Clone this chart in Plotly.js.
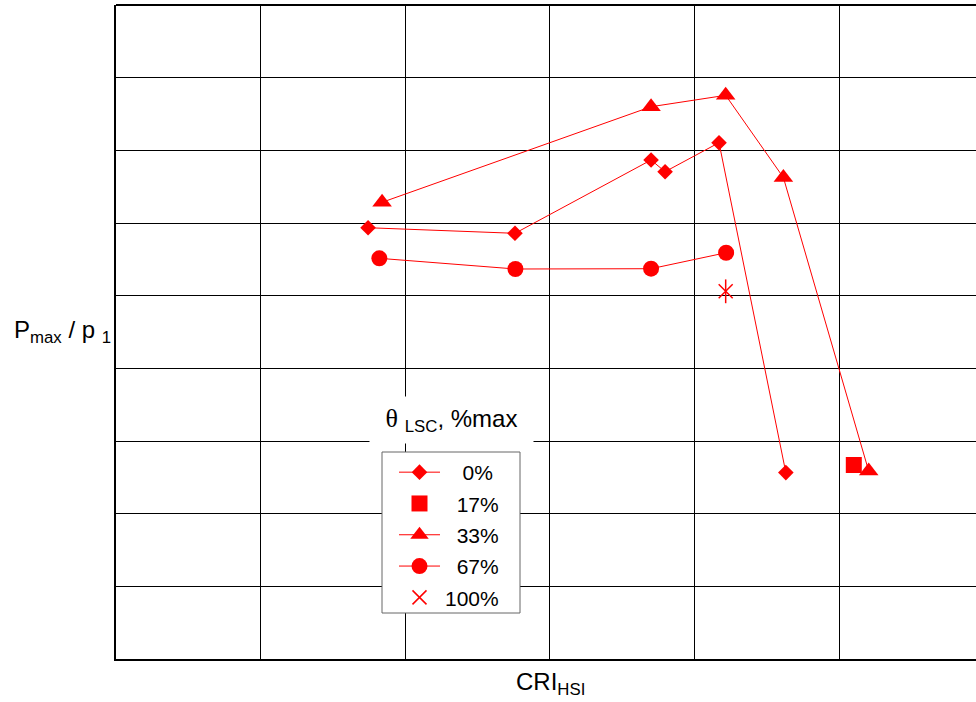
<!DOCTYPE html>
<html>
<head>
<meta charset="utf-8">
<script src="https://cdn.plot.ly/plotly-3.0.1.min.js"></script>
<style>html,body{margin:0;padding:0;overflow:hidden;background:#fff;}</style>
</head>
<body>
<div id="chart" style="width:976px;height:702px;"></div>
<script>
// Data (no tick labels in the original; unitless grid units)
const lscLevels = ["0%", "17%", "33%", "67%", "100%"];

const cri0 = [1.743, 2.759, 3.700, 3.797, 4.170, 4.632];
const p0   = [5.935, 5.858, 6.867, 6.706, 7.105, 2.565];

const cri17 = [5.102];
const p17   = [2.670];

const cri33 = [1.840, 3.700, 4.216, 4.615, 5.205];
const p33   = [6.285, 7.600, 7.757, 6.626, 2.587];

const cri67 = [1.821, 2.762, 3.700, 4.219];
const p67   = [5.514, 5.367, 5.371, 5.591];

const cri100 = [4.216];
const p100   = [5.060];

const red = "#ff0000";
const pad = (s, n) => "\u00a0".repeat(n) + s;

const traces = [
  {x: cri0, y: p0, name: pad(lscLevels[0], 3), mode: "lines+markers", legendgroup: "a",
   line: {color: red, width: 1}, marker: {symbol: "diamond", size: 12, color: red}},
  {x: cri17, y: p17, name: pad(lscLevels[1], 2), mode: "markers", legendgroup: "b",
   marker: {symbol: "square", size: 16, color: red}},
  {x: cri33, y: p33, name: pad(lscLevels[2], 2), mode: "lines+markers", legendgroup: "c",
   line: {color: red, width: 1}, marker: {symbol: "triangle-up", size: 17, color: red}},
  {x: cri67, y: p67, name: pad(lscLevels[3], 2), mode: "lines+markers", legendgroup: "d",
   line: {color: red, width: 1}, marker: {symbol: "circle", size: 16, color: red}},
  {x: cri100, y: p100, name: lscLevels[4], mode: "markers", legendgroup: "e",
   marker: {symbol: "x-thin-open", size: 14, color: red, line: {color: red, width: 1.5}}},
  {x: cri100, y: p100, name: lscLevels[4], mode: "markers", legendgroup: "e", showlegend: false,
   marker: {symbol: "line-ns-open", size: 17, color: red, line: {color: red, width: 1.5}}}
];

const gridColor = "#000000";
const layout = {
  width: 976, height: 702, autosize: false,
  margin: {l: 116, r: 0, t: 5, b: 43, pad: 0},
  paper_bgcolor: "#fff", plot_bgcolor: "#fff",
  font: {family: "Liberation Sans, Arial, sans-serif", color: "#000", size: 21},
  showlegend: true,
  xaxis: {range: [0, 5.947], dtick: 1, tick0: 0, showticklabels: false, ticks: "",
          showgrid: true, gridcolor: gridColor, gridwidth: 1, zeroline: false,
          showline: true, linecolor: "#000", linewidth: 2, fixedrange: true},
  yaxis: {range: [0, 9], dtick: 1, tick0: 0, showticklabels: false, ticks: "",
          showgrid: true, gridcolor: gridColor, gridwidth: 1, zeroline: false,
          showline: true, linecolor: "#000", linewidth: 2, fixedrange: true},
  shapes: [
    {type: "line", xref: "paper", yref: "paper", x0: 0, x1: 1, y0: 1, y1: 1,
     line: {color: "#000", width: 2}},
    {type: "rect", xref: "paper", yref: "paper", layer: "above",
     x0: (382 - 116) / 860, x1: (520 - 116) / 860,
     y0: (659 - 613) / 654, y1: (659 - 452) / 654,
     fillcolor: "#fff", line: {color: "#666", width: 1}}
  ],
  legend: {x: (394 - 116) / 860, y: 0.3165, xanchor: "left", yanchor: "top",
           bgcolor: "rgba(0,0,0,0)", borderwidth: 0,
           font: {size: 21, color: "#000"}, tracegroupgap: 1, itemwidth: 41},
  annotations: [
    {xref: "paper", yref: "paper", x: (451.5 - 116) / 860, y: (659 - 420) / 654,
     xanchor: "center", yanchor: "middle", showarrow: false,
     width: 161, height: 44, bgcolor: "#fff",
     text: "<span style='font-family:Liberation Serif, Times New Roman, serif;font-size:26px'>θ</span> <sub>LSC</sub>, %max",
     font: {size: 24, color: "#000"}},
    {xref: "paper", yref: "paper", x: (12 - 116) / 860, y: (659 - 331) / 654,
     xanchor: "left", yanchor: "middle", showarrow: false,
     text: "P<sub>max</sub> / p <sub>1</sub>", font: {size: 24, color: "#000"}},
    {xref: "paper", yref: "paper", x: (550 - 116) / 860, y: (659 - 683) / 654,
     xanchor: "center", yanchor: "middle", showarrow: false,
     text: "CRI<sub>HSI</sub>", font: {size: 24, color: "#000"}}
  ]
};

Plotly.newPlot("chart", traces, layout, {displayModeBar: false, staticPlot: true});
</script>
</body>
</html>
